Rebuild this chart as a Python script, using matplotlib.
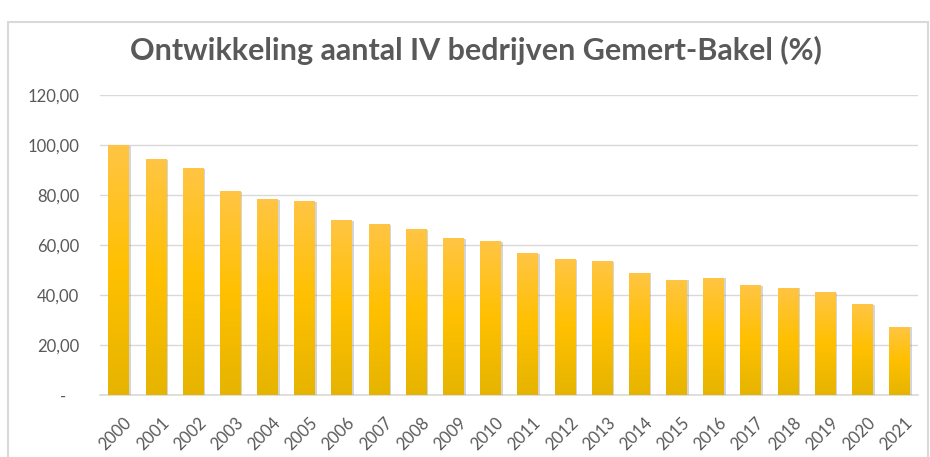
import matplotlib
matplotlib.use("Agg")
import matplotlib.pyplot as plt
import numpy as np
from matplotlib.colors import LinearSegmentedColormap
from matplotlib.ticker import FuncFormatter
import matplotlib.patheffects as pe
from matplotlib.patches import Rectangle
from matplotlib.transforms import ScaledTranslation

years = [str(y) for y in range(2000, 2022)]
values = [100.0, 94.3, 90.7, 81.5, 78.3, 77.5, 69.9, 68.3, 66.3, 62.7, 61.5,
          56.7, 54.3, 53.5, 48.9, 46.1, 46.9, 43.9, 42.9, 41.1, 36.3, 27.3]
yticks = [0, 20, 40, 60, 80, 100, 120]
title = "Ontwikkeling aantal IV bedrijven Gemert-Bakel (%)"

plt.rcParams['font.family'] = ['Lato', 'DejaVu Sans']
txt = '#595959'

fig = plt.figure(figsize=(9.3, 4.57), dpi=100)
ax = fig.add_axes([100/930, 1-395/457, 818/930, 300/457])

# chart border
fig.patches.append(Rectangle((8/930, -0.01), 920/930, 1-22/457+0.01, transform=fig.transFigure,
                             fill=False, edgecolor='#D9D9D9', linewidth=1.5))

x = np.arange(len(years))
bars = ax.bar(x, values, width=0.55, color='#FFC000', zorder=3,
              path_effects=[pe.SimplePatchShadow(offset=(1.5, -0.5), shadow_rgbFace='#888888', alpha=0.35), pe.Normal()])

cmap = LinearSegmentedColormap.from_list('g', ['#E6B400', '#FFC000', '#FFC544'])
grad = np.linspace(0, 1, 256).reshape(-1, 1)
for b in bars:
    x0, w, h = b.get_x(), b.get_width(), b.get_height()
    im = ax.imshow(grad, cmap=cmap, extent=(x0, x0 + w, 0, h), origin='lower',
                   aspect='auto', zorder=4)
    im.set_clip_path(b)

ax.set_xlim(-0.5, len(years) - 0.5)
ax.set_ylim(0, 120)
ax.set_yticks(yticks)
ax.yaxis.set_major_formatter(FuncFormatter(
    lambda v, p: '-\u00a0\u00a0\u00a0' if v == 0 else f"{v:.2f}".replace('.', ',')))
ax.grid(axis='y', color='#D9D9D9', linewidth=1, zorder=0)
ax.set_xticks(x)
ax.set_xticklabels(years, rotation=45, ha='right', rotation_mode='anchor')
ax.tick_params(axis='both', length=0, colors=txt, labelsize=12)
ax.tick_params(axis='y', pad=15)
ax.tick_params(axis='x', pad=14)
off = ScaledTranslation(5/100, 0, fig.dpi_scale_trans)
for lbl in ax.get_xticklabels():
    lbl.set_transform(lbl.get_transform() + off)
for s in ['top', 'right', 'left']:
    ax.spines[s].set_visible(False)
ax.spines['bottom'].set_color('#D9D9D9')
ax.spines['bottom'].set_linewidth(1.2)

fig.text(476/930, 1-50/457, title, ha='center', va='center', fontsize=22,
         fontweight='bold', color=txt)

fig.savefig('out.png', dpi=100)
